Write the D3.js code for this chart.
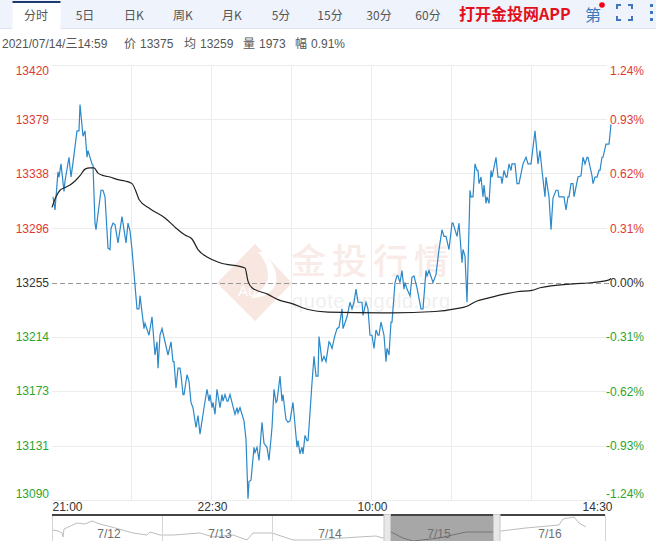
<!DOCTYPE html>
<html>
<head>
<meta charset="utf-8">
<script src="https://cdn.jsdelivr.net/npm/d3@7"></script>
<style>
html, body { margin: 0; padding: 0; background: #fff; overflow: hidden; }
svg { display: block; font-family: "Liberation Sans", "Noto Sans CJK SC", sans-serif; }
.cn { font-family: "Noto Sans CJK SC", sans-serif; }
</style>
</head>
<body>
<svg id="chart" width="656" height="541"></svg>
<script>
var tabs = ['分时', '5日', '日K', '周K', '月K', '5分', '15分', '30分', '60分'];
var infoLabels = ['2021/07/14/三14:59', '价', '13375', '均', '13259', '量', '1973', '幅', '0.91%'];

var priceTicks = [13420, 13379, 13338, 13296, 13255, 13214, 13173, 13131, 13090];
var percentTicks = [1.24, 0.93, 0.62, 0.31, 0, -0.31, -0.62, -0.93, -1.24];
var timeGrid = [0, 80, 160, 240, 320, 400, 480, 560];
var timeTicks = [0, 160, 320, 560];
var timeLabels = ['21:00', '22:30', '10:00', '14:30'];
var baseline = 13255;

// session slots, 0 = 21:00, 560 = 14:30
var priceSlots = [1,3,6,7,9,12,13,17,19,21,25,27,28,31,33,35,36,40,41,43,44,46,49,51,53,56,58,59,61,63,66,70,74,76,78,80,85,87,88,92,93,97,100,103,105,106,108,110,116,119,121,122,124,126,128,129,131,132,135,137,139,141,144,146,148,152,155,157,158,160,161,163,165,168,170,171,173,175,176,178,183,185,186,188,192,194,196,197,199,202,203,205,207,210,212,215,217,220,222,224,225,228,230,231,234,236,238,241,245,246,248,250,251,253,255,256,257,260,262,264,266,267,270,272,274,277,278,280,283,285,287,290,291,295,298,300,302,304,306,310,311,314,316,318,320,322,324,326,327,329,332,334,335,337,339,340,343,345,346,348,350,352,353,355,358,360,362,365,369,371,374,375,377,381,384,387,390,392,394,397,400,401,405,407,410,411,413,415,418,419,421,423,425,426,427,429,431,432,434,435,437,439,440,444,446,449,450,452,454,455,457,459,460,463,465,467,471,474,476,479,483,486,488,490,493,494,497,499,501,504,506,507,512,514,516,517,519,521,522,526,529,531,533,535,536,540,541,543,545,547,548,550,551,554,557,559];
var prices = [13320,13310,13339,13335,13345,13324,13332,13350,13335,13346,13370,13370,13390,13366,13370,13350,13355,13345,13344,13300,13295,13307,13325,13325,13320,13281,13280,13296,13300,13299,13285,13305,13285,13300,13294,13280,13235,13235,13245,13220,13224,13215,13229,13200,13210,13190,13215,13220,13200,13210,13195,13195,13175,13190,13190,13185,13170,13170,13185,13180,13164,13160,13145,13154,13140,13160,13174,13165,13170,13160,13164,13155,13174,13160,13170,13165,13170,13165,13165,13170,13155,13160,13156,13160,13150,13136,13091,13104,13105,13130,13126,13130,13120,13149,13133,13130,13120,13145,13174,13164,13165,13184,13165,13170,13151,13149,13150,13164,13130,13135,13125,13130,13125,13139,13135,13135,13145,13179,13199,13184,13184,13214,13195,13199,13195,13210,13209,13205,13215,13220,13221,13235,13220,13229,13240,13235,13240,13250,13240,13240,13230,13240,13235,13215,13215,13205,13219,13215,13215,13225,13215,13195,13205,13200,13225,13225,13255,13260,13260,13255,13264,13250,13255,13250,13245,13259,13260,13251,13235,13235,13264,13260,13264,13255,13261,13280,13295,13290,13290,13280,13300,13300,13290,13300,13270,13280,13275,13240,13325,13320,13320,13345,13340,13340,13330,13335,13320,13329,13315,13320,13315,13340,13335,13350,13335,13335,13330,13340,13335,13335,13345,13340,13345,13345,13330,13330,13345,13350,13345,13345,13370,13345,13355,13340,13320,13335,13320,13295,13319,13325,13325,13320,13320,13310,13320,13320,13330,13330,13320,13335,13336,13350,13345,13350,13350,13336,13330,13335,13335,13340,13340,13350,13350,13360,13360,13375];

var avgSlots = [0,4,8,13,18,23,28,33,38,42,46,52,58,66,73,80,85,87,98,113,123,133,140,146,156,168,193,196,200,216,226,240,256,276,330,340,383,403,415,425,435,451,465,480,488,521,541,557,559];
var avgPrices = [13312,13320,13325,13327,13329,13332,13336,13341,13342,13342,13338,13336,13335,13333,13332,13330,13322,13318,13311,13304,13297,13291,13288,13280,13274,13270,13266,13256,13251,13246,13242,13239,13234.5,13232.5,13232,13232,13233,13235,13237,13241,13243,13246,13248,13249,13251,13254,13255,13257,13258];

// overview strip below the chart
var navDates = ['7/12', '7/13', '7/14', '7/15', '7/16'];
var navDateSlots = [57, 168, 278, 387, 498];
var navDividers = [110, 220];
var navSelected = [338, 441];
var navSlots = [1,6,10,11,12,25,33,40,48,63,81,95,98,108,121,148,161,181,195,201,220,241,266,278,291,307,324,331,339,351,361,387,414,441,449,474,507,511,522,527,534];
var navValues = [13250,13237,13210,13157,13263,13343,13330,13370,13330,13277,13210,13183,13223,13183,13183,13210,13157,13183,13117,13210,13210,13117,13117,13130,13143,13157,13170,13143,13223,13143,13103,13143,13223,13223,13237,13277,13317,13397,13423,13343,13290];

var svg = d3.select('#chart');
var red = '#dd3a32', green = '#2da52d', gridColor = '#ececec';

var x = d3.scaleLinear().domain([0, 560]).range([52, 612]);
var y = d3.scaleLinear().domain([13090, 13420]).range([500, 65]);
var yPct = d3.scaleLinear().domain([-1.24, 1.24]).range([500, 65]);
var navX = d3.scaleLinear().domain([0, 553]).range([52, 605]);
var navY = d3.scaleLinear().domain([13050, 13450]).range([545, 515]);

// toolbar
svg.append('rect').attr('width', 656).attr('height', 28).attr('fill', '#eff3fb');
svg.append('line').attr('x1', 0).attr('x2', 656).attr('y1', 28.5).attr('y2', 28.5).attr('stroke', '#dfe4ee');
svg.append('rect').attr('x', 12.5).attr('y', 1).attr('width', 48).attr('height', 28).attr('fill', '#fff');
svg.append('rect').attr('x', 12.5).attr('y', 1).attr('width', 48).attr('height', 2).attr('fill', '#1d3a6e');

var tabX = d3.scalePoint().domain(tabs).range([36, 428]);
svg.selectAll('.tab')
    .data(tabs)
    .join('text')
    .attr('class', 'tab cn')
    .attr('x', function(d){ return tabX(d); })
    .attr('y', 20)
    .attr('text-anchor', 'middle')
    .attr('font-size', 12)
    .attr('fill', '#555')
    .text(function(d){ return d; });

svg.append('text').attr('class', 'cn').attr('x', 459).attr('y', 20)
    .attr('font-size', 16).attr('font-weight', 700).attr('fill', '#e3101c').text('打开金投网APP');
svg.append('text').attr('class', 'cn').attr('x', 585).attr('y', 21)
    .attr('font-size', 16).attr('fill', '#3f78bd').text('第');
svg.append('circle').attr('cx', 602).attr('cy', 5).attr('r', 2.8).attr('fill', '#f00010');
svg.append('path')
    .attr('d', 'M617 9V5H621M628 5H632V9M632 16V20H628M621 20H617V16')
    .attr('fill', 'none').attr('stroke', '#3f78bd').attr('stroke-width', 2);
svg.selectAll('.dot')
    .data([5, 12, 19])
    .join('rect')
    .attr('class', 'dot')
    .attr('x', 650).attr('y', function(d){ return d - 1; })
    .attr('width', 3).attr('height', 3).attr('fill', '#3f78bd');

// info line
var infoX = [2, 124, 140, 184, 200, 243, 259, 295, 311];
svg.selectAll('.info')
    .data(infoLabels)
    .join('text')
    .attr('class', 'info')
    .attr('x', function(d, i){ return infoX[i]; })
    .attr('y', 48)
    .attr('font-size', 12)
    .attr('fill', '#555')
    .text(function(d){ return d; });

// watermark
var mark = svg.append('g');
mark.append('path')
    .attr('d', 'M255 244L292 283L255 321L217 283Z')
    .attr('fill', '#f8e6e1');
mark.append('path')
    .attr('d', 'M263 252Q279 268 276 283Q271 298 250 298Q268 288 268 276Q268 263 258 252Z')
    .attr('fill', '#fff');
mark.append('text').attr('x', 238).attr('y', 296).attr('font-size', 15).attr('fill', '#fff').text('Au');
mark.append('text').attr('class', 'cn').attr('x', 291).attr('y', 274)
    .attr('font-size', 35).attr('font-weight', 500).attr('letter-spacing', 6).attr('fill', '#f8ebe8').text('金投行情');
mark.append('text').attr('x', 292).attr('y', 308)
    .attr('font-size', 20).attr('letter-spacing', 0.6).attr('fill', '#f0efef').text('quote.cngold.org');

// grid
svg.append('g')
    .selectAll('line')
    .data(priceTicks.filter(function(d){ return d !== baseline; }))
    .join('line')
    .attr('x1', x(0)).attr('x2', x(555))
    .attr('y1', function(d){ return Math.round(y(d)) + 0.5; })
    .attr('y2', function(d){ return Math.round(y(d)) + 0.5; })
    .attr('stroke', gridColor);
svg.append('g')
    .selectAll('line')
    .data(timeGrid.slice(1, -1))
    .join('line')
    .attr('x1', function(d){ return Math.round(x(d)) - 0.5; })
    .attr('x2', function(d){ return Math.round(x(d)) - 0.5; })
    .attr('y1', y(13420)).attr('y2', y(13090))
    .attr('stroke', gridColor);
svg.append('line')
    .attr('x1', x(0)).attr('x2', x(557))
    .attr('y1', Math.round(y(baseline)) + 0.5).attr('y2', Math.round(y(baseline)) + 0.5)
    .attr('stroke', '#999').attr('stroke-dasharray', '5,3');

// axes
function edgeShift(d, i, n){
    if (i === 0) return 5;
    if (i === n - 1) return -7;
    return 0;
}
var leftAxis = svg.append('g')
    .attr('transform', 'translate(49,0)')
    .call(d3.axisLeft(y).tickValues(priceTicks).tickSize(0).tickPadding(0).tickFormat(d3.format('d')));
leftAxis.select('.domain').remove();
leftAxis.selectAll('text')
    .attr('font-family', 'inherit')
    .attr('font-size', 12)
    .attr('dy', function(d, i){ return (edgeShift(d, i, priceTicks.length) + 4) + 'px'; })
    .attr('fill', function(d){ return d > baseline ? red : d < baseline ? green : '#333'; });

var rightAxis = svg.append('g')
    .attr('transform', 'translate(644,0)')
    .call(d3.axisLeft(yPct).tickValues(percentTicks).tickSize(0).tickPadding(0)
        .tickFormat(function(d){ return d3.format('.2f')(d).replace('−', '-') + '%'; }));
rightAxis.select('.domain').remove();
rightAxis.selectAll('text')
    .attr('font-family', 'inherit')
    .attr('font-size', 12)
    .attr('dy', function(d, i){ return (edgeShift(d, i, percentTicks.length) + 4) + 'px'; })
    .attr('fill', function(d){ return d > 0 ? red : d < 0 ? green : '#333'; });

var bottomAxis = svg.append('g')
    .attr('transform', 'translate(0,502)')
    .call(d3.axisBottom(x).tickValues(timeTicks).tickSize(0).tickPadding(0)
        .tickFormat(function(d, i){ return timeLabels[i]; }));
bottomAxis.select('.domain').remove();
bottomAxis.selectAll('text')
    .attr('font-family', 'inherit')
    .attr('font-size', 12)
    .attr('fill', '#333')
    .attr('text-anchor', function(d, i){ return i === 0 ? 'start' : i === timeTicks.length - 1 ? 'end' : 'middle'; });

// lines
var priceLine = d3.line()
    .x(function(d, i){ return x(priceSlots[i]); })
    .y(function(d){ return y(d); });
var avgLine = d3.line()
    .x(function(d, i){ return x(avgSlots[i]); })
    .y(function(d){ return y(d); })
    .curve(d3.curveMonotoneX);

svg.append('path')
    .datum(prices)
    .attr('d', priceLine)
    .attr('fill', 'none')
    .attr('stroke', '#2b88c9')
    .attr('stroke-width', 1.2);
svg.append('path')
    .datum(avgPrices)
    .attr('d', avgLine)
    .attr('fill', 'none')
    .attr('stroke', '#222')
    .attr('stroke-width', 1.2);

// overview strip
var navLine = d3.line()
    .x(function(d, i){ return navX(navSlots[i]); })
    .y(function(d){ return navY(d); });

svg.append('rect')
    .attr('x', navX(navSelected[0])).attr('y', 515)
    .attr('width', navX(navSelected[1]) - navX(navSelected[0])).attr('height', 26)
    .attr('fill', '#a7a7a7');
svg.append('clipPath').attr('id', 'sel').append('rect')
    .attr('x', navX(navSelected[0])).attr('y', 515)
    .attr('width', navX(navSelected[1]) - navX(navSelected[0])).attr('height', 26);

svg.append('path').datum(navValues).attr('d', navLine)
    .attr('fill', 'none').attr('stroke', '#bdbdbd').attr('stroke-width', 1);
svg.append('path').datum(navValues).attr('d', navLine).attr('clip-path', 'url(#sel)')
    .attr('fill', 'none').attr('stroke', '#6d6d6d').attr('stroke-width', 1);

svg.selectAll('.navdiv')
    .data([0].concat(navDividers, [553]))
    .join('line')
    .attr('class', 'navdiv')
    .attr('x1', function(d){ return navX(d) + 0.5; })
    .attr('x2', function(d){ return navX(d) + 0.5; })
    .attr('y1', 515).attr('y2', 541)
    .attr('stroke', '#d5d5d5');

svg.selectAll('.navdate')
    .data(navDates)
    .join('text')
    .attr('class', 'navdate')
    .attr('x', function(d, i){ return navX(navDateSlots[i]); })
    .attr('y', 538)
    .attr('text-anchor', 'middle')
    .attr('font-size', 12)
    .attr('fill', '#6f6f6f')
    .text(function(d){ return d; });

svg.append('rect').attr('x', navX(0)).attr('y', 514).attr('width', 553).attr('height', 2).attr('fill', '#444');
svg.selectAll('.handle')
    .data([navSelected[0] - 6.5, navSelected[1]])
    .join('rect')
    .attr('class', 'handle')
    .attr('x', function(d){ return navX(d) + 0.5; })
    .attr('y', 514.5)
    .attr('width', 6.5).attr('height', 27)
    .attr('fill', '#e8e8e8')
    .attr('stroke', '#c8c8c8');
</script>
</body>
</html>
